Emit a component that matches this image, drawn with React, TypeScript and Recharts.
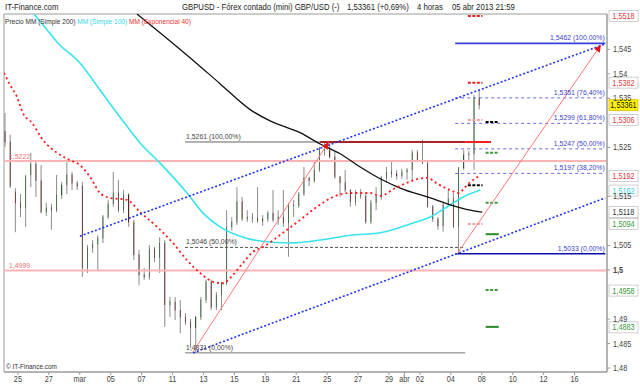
import React from "react";
import {
  Bar,
  ComposedChart,
  Line,
  ReferenceArea,
  ReferenceDot,
  ReferenceLine,
  XAxis,
  YAxis,
} from "recharts";

// Trading-day axis: day 0 is Mon 25 feb, one unit per trading day.
const DAY_TICKS = [0, 2, 4, 6, 8, 10, 12, 14, 16, 18, 20, 22, 24, 25, 26, 28, 30, 32, 34, 36];
const DAY_LABELS = ["25", "27", "mar", "05", "07", "11", "13", "15", "19", "21", "25", "27", "29", "abr", "02", "04", "08", "10", "12", "16"];
// 1,53 / 1,52 / 1,51 / 1,495 sit under the price tags in the original, so they are left out
const PRICE_TICKS = [1.48, 1.485, 1.49, 1.5, 1.505, 1.515, 1.525, 1.535, 1.54, 1.545];

// 8h candles, three per trading day, starting fri 22 feb (day -1).
const FIRST_DAY = -1;
const PER_DAY = 3;
const OPEN = [
  1.5282, 1.5261, 1.5159, 1.5137, 1.5127, 1.5194, 1.5216, 1.5182, 1.5118, 1.5127, 1.5122, 1.5153,
  1.5173, 1.5194, 1.5176, 1.5171, 1.5004, 1.5045, 1.5053, 1.5065, 1.5108, 1.5135, 1.5157, 1.5122,
  1.5153, 1.5098, 1.5031, 1.499, 1.4986, 1.5043, 1.5025, 1.5055, 1.4929, 1.4935, 1.4918, 1.4904,
  1.4894, 1.4882, 1.4904, 1.4939, 1.4976, 1.4924, 1.4949, 1.4973, 1.5088, 1.5098, 1.5139, 1.5104,
  1.5108, 1.5106, 1.51, 1.5104, 1.5116, 1.5102, 1.5108, 1.5096, 1.5133, 1.5131, 1.5155, 1.5188,
  1.5182, 1.5204, 1.5249, 1.5245, 1.5231, 1.519, 1.5178, 1.5163, 1.5139, 1.5153, 1.5151, 1.5098,
  1.5137, 1.5149, 1.5188, 1.52, 1.5196, 1.5192, 1.52, 1.5204, 1.5239, 1.5224, 1.5218, 1.5129,
  1.5104, 1.509, 1.5133, 1.5145, 1.5088, 1.5208, 1.5235, 1.5237, 1.5351,
];
const HIGH = [
  1.532, 1.5276, 1.5167, 1.5155, 1.5194, 1.5239, 1.5222, 1.5214, 1.5137, 1.5135, 1.5194, 1.518,
  1.522, 1.52, 1.5182, 1.518, 1.5051, 1.5061, 1.5071, 1.5112, 1.5143, 1.52, 1.5184, 1.5163,
  1.5157, 1.5102, 1.5041, 1.5004, 1.5051, 1.5047, 1.5067, 1.5061, 1.4945, 1.4945, 1.4939, 1.4912,
  1.49, 1.4906, 1.4945, 1.498, 1.498, 1.4955, 1.4976, 1.5122, 1.5108, 1.5169, 1.5149, 1.5122,
  1.5116, 1.5169, 1.5112, 1.512, 1.5163, 1.5122, 1.5163, 1.5137, 1.5143, 1.5159, 1.521, 1.519,
  1.5224, 1.5251, 1.5259, 1.5261, 1.5241, 1.5192, 1.5204, 1.5165, 1.5163, 1.5165, 1.5157, 1.5143,
  1.5169, 1.5192, 1.521, 1.5224, 1.5204, 1.5206, 1.5208, 1.5245, 1.5245, 1.5265, 1.5224, 1.5133,
  1.5108, 1.5137, 1.5163, 1.5157, 1.521, 1.5245, 1.5243, 1.5357, 1.5367,
];
const LOW = [
  1.5251, 1.5167, 1.5077, 1.5108, 1.5088, 1.5169, 1.5149, 1.5116, 1.511, 1.5082, 1.5118, 1.5145,
  1.5155, 1.5163, 1.5163, 1.4986, 1.4994, 1.5035, 1.5, 1.5055, 1.5104, 1.5129, 1.5118, 1.5116,
  1.5088, 1.502, 1.4969, 1.498, 1.498, 1.5016, 1.4994, 1.4884, 1.4904, 1.4898, 1.4871, 1.4888,
  1.4841, 1.4831, 1.4898, 1.4933, 1.4918, 1.4918, 1.4918, 1.4969, 1.508, 1.5092, 1.51, 1.5098,
  1.5096, 1.5096, 1.509, 1.5098, 1.5098, 1.5092, 1.5088, 1.5027, 1.5108, 1.5127, 1.5151, 1.5171,
  1.5178, 1.52, 1.5233, 1.5227, 1.5186, 1.5149, 1.5159, 1.5129, 1.5131, 1.5145, 1.5094, 1.5094,
  1.5122, 1.5143, 1.5178, 1.5188, 1.5184, 1.5186, 1.5184, 1.5184, 1.522, 1.5216, 1.5127, 1.5098,
  1.5082, 1.5078, 1.5131, 1.5086, 1.5033, 1.5204, 1.5222, 1.5204, 1.5327,
];
const CLOSE = [
  1.5261, 1.5171, 1.5137, 1.5127, 1.519, 1.5216, 1.5182, 1.5118, 1.5127, 1.5122, 1.5153, 1.5173,
  1.5194, 1.5176, 1.5171, 1.5004, 1.5045, 1.5053, 1.5065, 1.5108, 1.5135, 1.5157, 1.5122, 1.5153,
  1.5098, 1.5031, 1.499, 1.4986, 1.5043, 1.5025, 1.5055, 1.4929, 1.4935, 1.4918, 1.4904, 1.4894,
  1.4882, 1.4904, 1.4939, 1.4976, 1.4924, 1.4949, 1.4973, 1.5088, 1.5098, 1.5139, 1.5104, 1.5108,
  1.5106, 1.51, 1.5104, 1.5116, 1.5102, 1.5108, 1.5096, 1.5133, 1.5131, 1.5155, 1.5188, 1.5182,
  1.5204, 1.5249, 1.5245, 1.5231, 1.519, 1.5178, 1.5163, 1.5139, 1.5153, 1.5151, 1.5098, 1.5137,
  1.5149, 1.5188, 1.52, 1.5196, 1.5192, 1.52, 1.5204, 1.5239, 1.5224, 1.5218, 1.5129, 1.5104,
  1.509, 1.5133, 1.5145, 1.5088, 1.5208, 1.5235, 1.5237, 1.5351, 1.5336,
];

// Moving averages, read at a handful of points.
const MA200_T = [7.7, 9.19, 11.13, 13.07, 15.02, 16.31, 18.25, 19.55, 20.84, 22.14, 23.43, 24.72, 26.67, 27.96, 29.26, 30.03];
const MA200_V = [1.5522, 1.5484, 1.5433, 1.538, 1.5327, 1.5304, 1.528, 1.5257, 1.5237, 1.521, 1.5186, 1.5167, 1.5147, 1.5133, 1.5122, 1.5118];
const MA100_T = [1.04, 1.88, 2.52, 4.01, 5.31, 6.6, 7.9, 9.19, 10.94, 11.97, 13.07, 14.37, 15.66, 17.61, 19.55, 21.49, 23.43, 25.57, 26.67, 27.77, 28.8, 29.9];
const MA100_V = [1.5522, 1.549, 1.5465, 1.5422, 1.5367, 1.5312, 1.5259, 1.5218, 1.5157, 1.5116, 1.5088, 1.5069, 1.5059, 1.5055, 1.5061, 1.5071, 1.5076, 1.5096, 1.5108, 1.5129, 1.5149, 1.5163];
const EMA40_T = [-0.9, -0.52, -0.06, 0.32, 0.91, 1.62, 2.52, 3.37, 4.01, 4.66, 5.31, 5.95, 7.06, 7.9, 9.0, 10.03, 10.94, 11.78, 12.62, 13.27, 13.85, 14.5, 15.21, 15.86, 17.15, 18.25, 19.35, 20.39, 21.49, 22.78, 23.43, 24.4, 26.47, 27.12, 27.96, 28.48, 29.13, 29.84];
const EMA40_V = [1.5402, 1.5378, 1.5353, 1.532, 1.53, 1.5265, 1.5239, 1.5224, 1.5214, 1.519, 1.5157, 1.5147, 1.5143, 1.5118, 1.5088, 1.5055, 1.502, 1.4994, 1.4976, 1.4973, 1.4988, 1.5012, 1.5037, 1.5047, 1.5076, 1.5102, 1.5129, 1.5149, 1.5157, 1.5157, 1.5151, 1.5167, 1.5188, 1.5176, 1.5163, 1.5157, 1.5176, 1.5192];

// Drawn objects: [t0, price0, t1, price1]
const CHANNEL_UPPER = [4.01, 1.5069, 37.99, 1.5461];
const CHANNEL_LOWER = [11.33, 1.4831, 37.99, 1.5147];
const TREND_A = [11.33, 1.4833, 20.1, 1.5261];
const TREND_B = [28.41, 1.5033, 37.7, 1.5459];

const FIB_LEFT = [1.5261, 1.5046, 1.4831];
const FIB_LEFT_PCT = ["100,00%", "50,00%", "0,00%"];
const FIB_RIGHT = [1.5462, 1.5351, 1.5299, 1.5247, 1.5197, 1.5033];
const FIB_RIGHT_PCT = ["100,00%", "76,40%", "61,80%", "50,00%", "38,20%", "0,00%"];
const PINK_LEVELS = [1.5222, 1.4999];

const PRICE_TAGS = [1.5518, 1.5382, 1.53361, 1.5306, 1.5192, 1.5162, 1.5118, 1.5094, 1.4958, 1.4883];
const TAG_COLORS = ["#e83a3a", "#e83a3a", "#222", "#e83a3a", "#e83a3a", "#2fd0d8", "#333", "#3a9a3a", "#3a9a3a", "#3a9a3a"];

// short level markers right of the last candle
const MARK_A = [1.5518, 1.5382, 1.5306, 1.5173, 1.5094];
const MARK_A_COL = ["#e82020", "#e82020", "#f4a0a0", "#000", "#f4a0a0"];
const MARK_B = [1.5302, 1.5239, 1.5137, 1.5073, 1.4959, 1.4884];
const MARK_B_COL = ["#000", "#3a9a3a", "#3a9a3a", "#2a8a2a", "#3a9a3a", "#2a8a2a"];
const MARK_B_SOLID = [false, false, false, true, false, true];

const X_MIN = -0.9;
const X_MAX = 38.1;
const Y_MIN = 1.4792;
const Y_MAX = 1.5522;
const SX = 0.86;
const FONT = "'Liberation Sans', Arial, sans-serif";

const fmt = (v: number) => String(v).replace(".", ",");

function NarrowText({ x, y, children, size = 8.5, fill = "#333", anchor = "start", weight = 400 }: any) {
  return (
    <text
      transform={`translate(${x},${y}) scale(${SX},1)`}
      fontSize={size}
      fill={fill}
      textAnchor={anchor}
      fontFamily={FONT}
      fontWeight={weight}
    >
      {children}
    </text>
  );
}

function Candle(props: any) {
  const { x, y, width, height, payload } = props;
  if (x == null || y == null) return null;
  const top = Math.min(y, y + height);
  const h = Math.abs(height);
  const { open, close, high, low } = payload;
  const span = high - low || 1e-6;
  const toY = (v: number) => top + ((high - v) / span) * h;
  const cx = x + width / 2;
  const up = close >= open;
  const b0 = toY(Math.max(open, close));
  const b1 = toY(Math.min(open, close));
  return (
    <g>
      <line x1={cx} x2={cx} y1={top} y2={top + h} stroke="#8c8c8c" strokeWidth={1} />
      <rect
        x={x}
        y={b0}
        width={width}
        height={Math.max(1, b1 - b0)}
        fill={up ? "#3f9f3f" : "#8f3b3b"}
        stroke={up ? "#2c5c2c" : "#552222"}
        strokeWidth={0.6}
      />
    </g>
  );
}

function PriceTick(props: any) {
  const { x, y, payload } = props;
  const v = payload.value;
  const label = fmt(+v.toFixed(3));
  return (
    <NarrowText x={x + 1} y={y + 3} fill="#444" weight={v === 1.5 ? 700 : 400}>
      {label}
    </NarrowText>
  );
}

function DayTick(props: any) {
  const { x, y, payload } = props;
  const i = DAY_TICKS.indexOf(payload.value);
  return (
    <NarrowText x={x} y={y + 5} anchor="middle" fill="#444">
      {DAY_LABELS[i]}
    </NarrowText>
  );
}

function seg(key: string, p: number[], stroke: string, width: number, dash?: string) {
  return (
    <ReferenceLine
      key={key}
      segment={[{ x: p[0], y: p[1] }, { x: p[2], y: p[3] }]}
      stroke={stroke}
      strokeWidth={width}
      strokeDasharray={dash}
      ifOverflow="hidden"
    />
  );
}

function textAt(key: string, t: number, v: number, s: string, o: any = {}) {
  return (
    <ReferenceDot
      key={key}
      x={t}
      y={v}
      r={0}
      ifOverflow="visible"
      isFront
      shape={(p: any) => (
        <NarrowText x={p.cx + (o.dx || 0)} y={p.cy + (o.dy || 0)} fill={o.fill || "#333"} anchor={o.anchor || "start"} size={o.size || 8.5}>
          {s}
        </NarrowText>
      )}
    />
  );
}

function arrowAt(key: string, t: number, v: number) {
  return (
    <ReferenceDot
      key={key}
      x={t}
      y={v}
      r={0}
      ifOverflow="visible"
      isFront
      shape={(p: any) => {
        const dx = 0.55;
        const dy = -0.835;
        const bx = p.cx - dx * 7;
        const by = p.cy - dy * 7;
        const pts = `${p.cx},${p.cy} ${bx + dy * 3.5},${by - dx * 3.5} ${bx - dy * 3.5},${by + dx * 3.5}`;
        return <polygon points={pts} fill="#e01818" />;
      }}
    />
  );
}

const headStyle = (left: number, top: number, size: number): React.CSSProperties => ({
  position: "absolute",
  left,
  top,
  fontSize: size,
  color: "#222",
  transform: `scaleX(${SX})`,
  transformOrigin: "left",
  whiteSpace: "nowrap",
  lineHeight: "11px",
});

export default function App() {
  const candles = OPEN.map((o, i) => ({
    t: FIRST_DAY + (i + 0.5) / PER_DAY,
    open: o,
    high: HIGH[i],
    low: LOW[i],
    close: CLOSE[i],
    range: [LOW[i], HIGH[i]],
  }));
  const series = (T: number[], V: number[]) => T.map((t, i) => ({ t, v: V[i] }));

  return (
    <div style={{ position: "absolute", left: 0, top: 0, width: 640, height: 384, background: "#fff", overflow: "hidden", fontFamily: FONT }}>
      <ComposedChart width={640} height={384} data={candles} margin={{ top: 14, right: 0, bottom: 0, left: 4 }}>
        <XAxis
          dataKey="t"
          type="number"
          domain={[X_MIN, X_MAX]}
          allowDataOverflow
          ticks={DAY_TICKS}
          interval={0}
          tick={<DayTick />}
          tickSize={3}
          height={12}
          stroke="#9a9a9a"
        />
        <YAxis
          orientation="right"
          type="number"
          domain={[Y_MIN, Y_MAX]}
          allowDataOverflow
          ticks={PRICE_TICKS}
          interval={0}
          tick={<PriceTick />}
          tickSize={3}
          width={33}
          stroke="#9a9a9a"
        />
        <ReferenceArea x1={X_MIN} x2={X_MAX} y1={Y_MIN} y2={Y_MAX} fill="none" stroke="#9a9a9a" />

        {PINK_LEVELS.map((v) => (
          <ReferenceLine key={"pk" + v} y={v} stroke="#ffb4b4" strokeWidth={2} />
        ))}
        {PINK_LEVELS.map((v) => textAt("pkt" + v, X_MIN, v, fmt(v), { dx: 5, dy: -2, fill: "#f07070", size: 8 }))}

        {/* left fibonacci */}
        {seg("fl0", [10.81, FIB_LEFT[0], 28.93, FIB_LEFT[0]], "#666", 1)}
        {seg("fl1", [10.81, FIB_LEFT[1], 28.93, FIB_LEFT[1]], "#555", 1, "3 2")}
        {seg("fl2", [10.81, FIB_LEFT[2], 28.93, FIB_LEFT[2]], "#777", 1)}
        {FIB_LEFT.map((v, i) => textAt("flt" + i, 10.81, v, `${fmt(v)} (${FIB_LEFT_PCT[i]})`, { dx: 1, dy: -3, fill: "#444", size: 8 }))}
        {seg("res0", [19.55, 1.5261, 28.93, 1.5261], "#a82424", 2)}
        {seg("res1", [28.93, 1.5261, 30.6, 1.5261], "#ee2222", 2)}

        {/* right fibonacci */}
        {FIB_RIGHT.map((v, i) =>
          seg(
            "fr" + i,
            [28.28, v, 37.99, v],
            i === 5 ? "#0b10a8" : i === 0 ? "#3340dd" : "#6a6ae8",
            i === 0 || i === 5 ? 1.6 : 1,
            i === 0 || i === 5 ? undefined : "3 3"
          )
        )}
        {FIB_RIGHT.map((v, i) => textAt("frt" + i, 37.95, v, `${fmt(v)} (${FIB_RIGHT_PCT[i]})`, { dy: -3, fill: "#3a44cc", anchor: "end", size: 8 }))}

        {MARK_A.map((v, i) => seg("ma" + i, [29.1, v, 30.05, v], MARK_A_COL[i], 2, "3 1.5"))}
        {MARK_B.map((v, i) => seg("mb" + i, [30.25, v, 31.1, v], MARK_B_COL[i], 2, MARK_B_SOLID[i] ? undefined : "3 1.5"))}

        <Bar dataKey="range" barSize={3} shape={<Candle />} isAnimationActive={false} />

        <Line data={series(MA100_T, MA100_V)} dataKey="v" type="monotone" stroke="#38e4ec" strokeWidth={1.6} dot={false} isAnimationActive={false} />
        <Line data={series(MA200_T, MA200_V)} dataKey="v" type="monotone" stroke="#111" strokeWidth={1.3} dot={false} isAnimationActive={false} />
        <Line
          data={series(EMA40_T, EMA40_V)}
          dataKey="v"
          type="monotone"
          stroke="#ff1a1a"
          strokeWidth={1.8}
          strokeDasharray="2 3"
          dot={false}
          isAnimationActive={false}
        />

        {seg("chU", CHANNEL_UPPER, "#2233ee", 1.6, "2 2")}
        {seg("chL", CHANNEL_LOWER, "#2233ee", 1.6, "2 2")}
        {seg("trA", TREND_A, "#ff7a7a", 1)}
        {seg("trB", TREND_B, "#ff7a7a", 1)}
        {arrowAt("arA", TREND_A[2], TREND_A[3])}
        {arrowAt("arB", TREND_B[2], TREND_B[3])}

        {PRICE_TAGS.map((v, i) => (
          <ReferenceDot
            key={"tag" + i}
            x={X_MAX}
            y={v}
            r={0}
            ifOverflow="visible"
            isFront
            shape={(p: any) => (
              <g>
                <rect
                  x={p.cx + 2}
                  y={p.cy - 5.5}
                  width={29}
                  height={11}
                  fill={i === 2 ? "#fff200" : "#fff"}
                  stroke={i === 2 ? "#e0c000" : "#c4c4c4"}
                  strokeWidth={0.8}
                />
                <NarrowText x={p.cx + 16.5} y={p.cy + 3} anchor="middle" fill={TAG_COLORS[i]} size={8.5}>
                  {fmt(v)}
                </NarrowText>
              </g>
            )}
          />
        ))}
      </ComposedChart>

      <div style={headStyle(5, 2, 9)}>IT-Finance.com</div>
      <div style={headStyle(182, 2, 9)}>GBPUSD - Fórex contado (mini) GBP/USD (-)</div>
      <div style={headStyle(347, 2, 9)}>1,53361 (+0,69%)</div>
      <div style={headStyle(417, 2, 9)}>4 horas</div>
      <div style={headStyle(452, 2, 9)}>05 abr 2013 21:59</div>
      <div style={{ ...headStyle(5, 16, 8), transform: "scaleX(0.82)" }}>
        <span style={{ color: "#333" }}>Precio MM (Simple 200) </span>
        <span style={{ color: "#35d8e0" }}>MM (Simple 100) </span>
        <span style={{ color: "#f03030" }}>MM (Exponencial 40)</span>
      </div>
      <div style={{ ...headStyle(6, 361, 7.5), color: "#333" }}>© IT-Finance.com</div>
    </div>
  );
}
